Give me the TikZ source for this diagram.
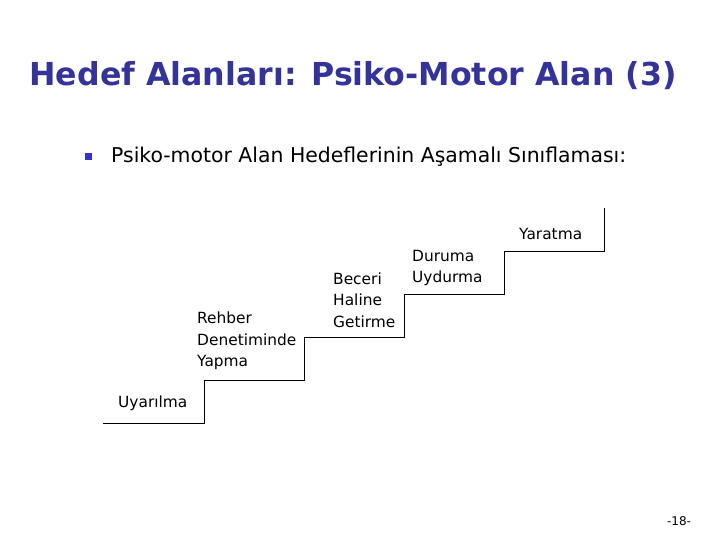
\documentclass[tikz,border=0pt]{standalone}
\usepackage{fontspec}
\setmainfont{DejaVu Sans}
\usepackage{tikz}
\definecolor{titleblue}{HTML}{333399}
\definecolor{bulletblue}{HTML}{3333CC}

\begin{document}
\begin{tikzpicture}[
    x=1pt, y=-1pt,
    step label/.style={anchor=west, inner sep=0pt, align=left, font=\fontsize{15.4}{21.5}\selectfont},
    stair/.style={draw, line width=0.8pt}
]
\useasboundingbox (0,0) rectangle (720,540);

% Title and bullet line
\node[text=titleblue, inner sep=0pt] (title) at (353,76)
    {\resizebox{647pt}{!}{\bfseries Hedef Alanları: Psiko-Motor Alan (3)}};
\node[fill=bulletblue, minimum size=7pt, inner sep=0pt] (bullet) at (88,157) {};
\node[anchor=west, inner sep=0pt, font=\fontsize{20.4}{24}\selectfont] (sub) at (111,157)
    {Psiko-motor Alan Hedeflerinin Aşamalı Sınıflaması:};

% Staircase
\draw[stair] (103,423) -- (204,423) -- (204,380) -- (304,380) -- (304,337)
    -- (404,337) -- (404,294) -- (504,294) -- (504,251) -- (604,251) -- (604,208);

% Step labels
\node[step label] (s1) at (118,403) {Uyarılma};
\node[step label] (s2) at (197,341) {Rehber\\Denetiminde\\Yapma};
\node[step label] (s3) at (333,300) {Beceri\\Haline\\Getirme};
\node[step label] (s4) at (412,268) {Duruma\\Uydurma};
\node[step label] (s5) at (519,234) {Yaratma};

% Page number
\node[font=\fontsize{12}{14}\selectfont, inner sep=0pt] (page) at (679,521) {-18-};

\end{tikzpicture}
\end{document}
